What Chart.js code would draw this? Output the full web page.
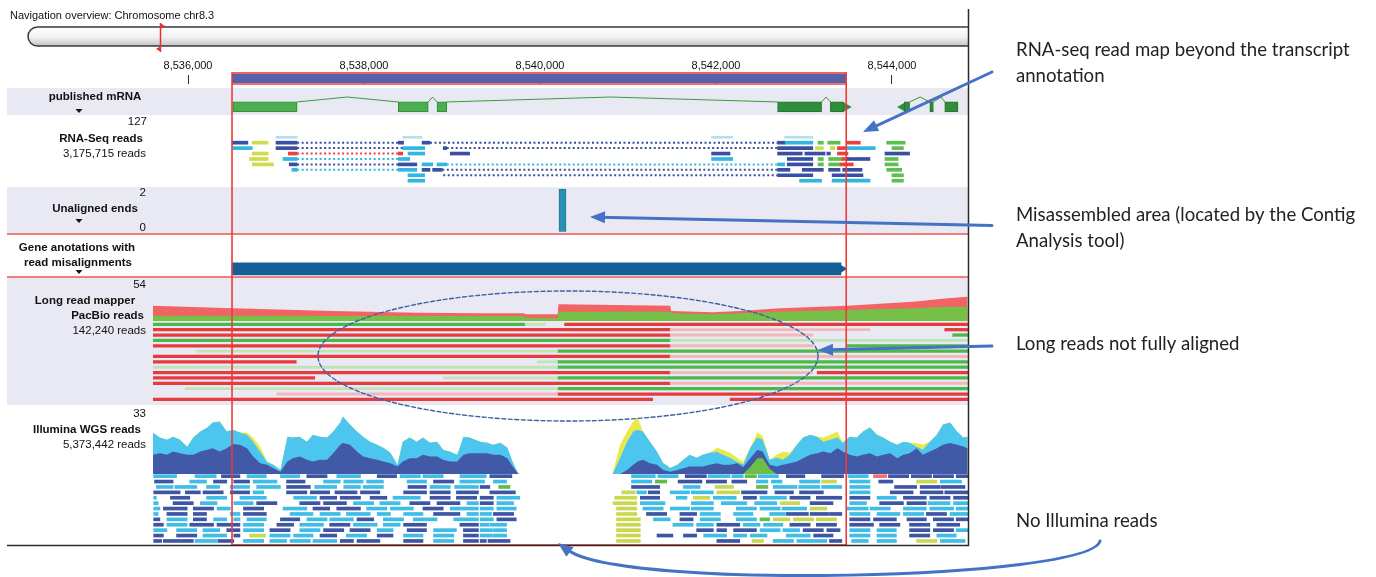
<!DOCTYPE html>
<html>
<head>
<meta charset="utf-8">
<script src="https://cdn.jsdelivr.net/npm/chart.js@4.4.1/dist/chart.umd.min.js"></script>
<style>
  html, body { margin: 0; padding: 0; background: #fff; }
  #wrap { width: 1376px; height: 577px; }
</style>
</head>
<body>
<div id="wrap"><canvas id="browser" width="1376" height="577"></canvas></div>
<script>
// ---- data (positions in kb on chr8.3) ----
const viewRange = [8535.602, 8544.864];
const tickValues = [8536, 8538, 8540, 8542, 8544];
const tickLabels = ['8,536,000', '8,538,000', '8,540,000', '8,542,000', '8,544,000'];
const selection = [8536.50, 8543.48];

// published mRNA: exons [start, end, gene], introns [start, apex, end], strand tips [pos, dir]
const mrnaExons = [[8536.51, 8537.24, 'a'], [8538.39, 8538.73, 'a'], [8538.83, 8538.94, 'a'],
  [8542.70, 8543.20, 'b'], [8543.30, 8543.45, 'b'], [8544.14, 8544.20, 'b'], [8544.43, 8544.47, 'b'], [8544.60, 8544.75, 'b']];
const mrnaIntrons = [[8537.24, 8537.81, 8538.39], [8538.73, 8538.78, 8538.83], [8538.94, 8540.80, 8542.70],
  [8543.20, 8543.25, 8543.30], [8544.20, 8544.32, 8544.43], [8544.47, 8544.56, 8544.60]];
const mrnaTips = [[8543.48, 'right'], [8544.12, 'left']];

// RNA-Seq reads [row, start, end, type] and spliced gaps
const rnaReads = [
  [-1, 8537.00, 8537.24, 'f'], [-1, 8538.44, 8538.66, 'f'], [-1, 8541.95, 8542.19, 'f'], [-1, 8542.78, 8543.10, 'f'],
  [0, 8536.50, 8536.68, 'd'], [0, 8536.73, 8536.91, 'y'], [0, 8537.00, 8537.24, 'd'], [0, 8538.39, 8538.45, 'd'], [0, 8538.66, 8538.75, 'd'],
  [0, 8542.70, 8542.78, 'd'], [0, 8542.78, 8543.10, 'l'], [0, 8543.16, 8543.22, 'g'], [0, 8543.27, 8543.41, 'g'], [0, 8543.49, 8543.64, 'r'], [0, 8543.94, 8544.15, 'g'],
  [1, 8536.51, 8536.73, 'l'], [1, 8537.00, 8537.24, 'd'], [1, 8538.44, 8538.69, 'l'], [1, 8538.90, 8538.94, 'd'], [1, 8542.70, 8543.10, 'd'],
  [1, 8543.13, 8543.22, 'y'], [1, 8543.30, 8543.35, 'y'], [1, 8543.38, 8543.49, 'r'], [1, 8543.49, 8543.81, 'l'], [1, 8544.00, 8544.13, 'g'],
  [2, 8536.73, 8536.91, 'y'], [2, 8537.14, 8537.24, 'r'], [2, 8538.39, 8538.44, 'r'], [2, 8538.50, 8538.69, 'l'], [2, 8538.98, 8539.20, 'd'],
  [2, 8541.95, 8542.16, 'd'], [2, 8542.70, 8542.98, 'd'], [2, 8543.01, 8543.24, 'd'], [2, 8543.26, 8543.30, 'd'], [2, 8543.38, 8543.50, 'r'], [2, 8543.92, 8544.20, 'd'],
  [3, 8536.70, 8536.91, 'y'], [3, 8537.08, 8537.24, 'l'], [3, 8538.39, 8538.52, 'l'], [3, 8541.95, 8542.19, 'l'], [3, 8542.81, 8543.10, 'd'],
  [3, 8543.16, 8543.22, 'g'], [3, 8543.28, 8543.43, 'g'], [3, 8543.43, 8543.49, 'r'], [3, 8543.49, 8543.75, 'd'], [3, 8543.92, 8544.07, 'g'],
  [4, 8536.73, 8536.97, 'y'], [4, 8537.15, 8537.24, 'd'], [4, 8538.39, 8538.60, 'd'], [4, 8538.66, 8538.78, 'l'], [4, 8538.83, 8538.94, 'l'],
  [4, 8542.70, 8542.78, 'l'], [4, 8542.81, 8543.10, 'd'], [4, 8543.16, 8543.22, 'g'], [4, 8543.28, 8543.41, 'g'], [4, 8543.41, 8543.56, 'r'], [4, 8543.92, 8544.07, 'g'],
  [5, 8537.18, 8537.24, 'l'], [5, 8538.39, 8538.60, 'l'], [5, 8538.66, 8538.75, 'd'], [5, 8538.78, 8538.89, 'd'], [5, 8542.70, 8542.84, 'd'],
  [5, 8542.98, 8543.22, 'd'], [5, 8543.28, 8543.41, 'd'], [5, 8543.44, 8543.66, 'd'], [5, 8543.94, 8544.11, 'g'],
  [6, 8538.50, 8538.69, 'l'], [6, 8542.70, 8543.10, 'd'], [6, 8543.32, 8543.67, 'd'], [6, 8544.00, 8544.13, 'g'],
  [7, 8538.50, 8538.69, 'l'], [7, 8542.95, 8543.20, 'l'], [7, 8543.32, 8543.75, 'l'], [7, 8544.00, 8544.13, 'g']
];
const rnaGaps = [
  [0, 8537.24, 8538.39, 'd'], [0, 8538.75, 8542.70, 'd'],
  [1, 8537.24, 8538.44, 'd'], [1, 8538.94, 8542.70, 'd'],
  [2, 8537.24, 8538.39, 'r'],
  [3, 8537.24, 8538.39, 'l'],
  [4, 8537.24, 8538.39, 'd'], [4, 8538.94, 8542.70, 'l'],
  [5, 8537.24, 8538.39, 'l'], [5, 8538.89, 8542.70, 'd'],
  [6, 8538.90, 8542.70, 'd']
];

// unaligned ends
const unalignedPos = [8540.256];
const unalignedCount = [2];

// gene annotation with read misalignments
const geneAnnotation = [8536.50, 8543.42];

// long read (PacBio) coverage and reads
const longPos = [8535.60, 8536.51, 8537.65, 8538.60, 8539.32, 8539.82, 8539.83, 8540.20, 8540.21, 8541.48, 8541.49,
  8541.97, 8542.27, 8542.73, 8543.49, 8544.24, 8544.63, 8544.86];
const longTotal = [21.5, 17.9, 14.1, 11.7, 10.8, 10.8, 9.4, 9.4, 23.5, 21.5, 14.1, 12.3, 14.1, 17.9, 21.5, 27.2, 32.0, 34.2];
const longReverse = [7.5, 7.3, 7.2, 7.0, 7.0, 7.0, 4.6, 3.8, 13.1, 13.1, 10.8, 9.4, 10.8, 13.1, 15.5, 17.9, 20.1, 20.1];
const longReads = [
  [0, 8535.60, 8539.83, 'G'], [0, 8539.83, 8540.06, 'g'], [0, 8540.28, 8544.86, 'R'],
  [1, 8535.60, 8541.48, 'R'], [1, 8541.48, 8543.75, 'r'], [1, 8544.60, 8544.86, 'R'],
  [2, 8535.60, 8541.48, 'R'], [2, 8541.48, 8543.10, 'r'], [2, 8544.69, 8544.86, 'G'],
  [3, 8535.60, 8541.48, 'G'], [3, 8541.48, 8544.86, 'g'],
  [4, 8535.60, 8541.48, 'R'], [4, 8541.48, 8543.10, 'r'], [4, 8543.49, 8544.86, 'G'],
  [5, 8536.10, 8540.20, 'g'], [5, 8540.20, 8544.86, 'G'],
  [6, 8535.60, 8541.48, 'R'], [6, 8541.48, 8544.86, 'r'],
  [7, 8535.60, 8537.23, 'R'], [7, 8539.97, 8540.20, 'g'], [7, 8540.20, 8544.86, 'G'],
  [8, 8535.60, 8540.20, 'g'], [8, 8540.20, 8544.86, 'G'],
  [9, 8535.60, 8541.48, 'R'], [9, 8541.48, 8543.10, 'r'], [9, 8543.15, 8544.86, 'R'],
  [10, 8535.60, 8537.44, 'R'], [10, 8538.90, 8540.20, 'g'], [10, 8540.20, 8544.86, 'G'],
  [11, 8535.60, 8541.48, 'R'], [11, 8541.48, 8544.86, 'r'],
  [12, 8535.97, 8540.20, 'g'], [12, 8540.20, 8544.86, 'G'],
  [13, 8537.01, 8540.20, 'r'], [13, 8540.20, 8544.86, 'R'],
  [14, 8535.60, 8541.28, 'R'], [14, 8542.16, 8544.86, 'R']
];

// Illumina WGS coverage (stacked layer tops) and reads
const illPos = [8535.60, 8535.68, 8535.76, 8535.83, 8535.91, 8535.99, 8536.06, 8536.14, 8536.22, 8536.28,
  8536.36, 8536.44, 8536.51, 8536.59, 8536.67, 8536.74, 8536.82, 8536.90, 8536.97, 8537.05,
  8537.13, 8537.19, 8537.27, 8537.35, 8537.42, 8537.50, 8537.58, 8537.65, 8537.73, 8537.76,
  8537.84, 8537.92, 8537.99, 8538.07, 8538.15, 8538.22, 8538.30, 8538.38, 8538.44, 8538.52,
  8538.60, 8538.67, 8538.75, 8538.83, 8538.90, 8538.98, 8539.06, 8539.13, 8539.20, 8539.32,
  8539.40, 8539.47, 8539.55, 8539.63, 8539.69, 8539.75, 8539.76, 8540.82, 8540.83, 8540.91,
  8540.99, 8541.06, 8541.11, 8541.17, 8541.25, 8541.33, 8541.40, 8541.48, 8541.56, 8541.63,
  8541.70, 8541.78, 8541.85, 8541.93, 8542.01, 8542.08, 8542.16, 8542.24, 8542.31, 8542.39,
  8542.47, 8542.53, 8542.61, 8542.69, 8542.76, 8542.84, 8542.92, 8542.99, 8543.07, 8543.15,
  8543.22, 8543.30, 8543.38, 8543.44, 8543.52, 8543.60, 8543.67, 8543.75, 8543.83, 8543.90,
  8543.98, 8544.06, 8544.13, 8544.20, 8544.28, 8544.35, 8544.43, 8544.51, 8544.58, 8544.66,
  8544.74, 8544.81, 8544.86];
const illDark = [11.1, 12.1, 11.1, 13.0, 12.1, 11.1, 11.1, 13.0, 14.0, 15.0,
  13.0, 15.0, 17.4, 17.0, 15.0, 10.1, 6.2, 5.3, 3.3, 1.3,
  7.2, 9.2, 10.1, 8.2, 7.2, 8.2, 8.2, 12.1, 17.0, 17.9,
  17.0, 13.0, 10.1, 9.2, 8.2, 7.2, 6.2, 4.3, 7.2, 9.2,
  9.2, 11.1, 10.1, 10.1, 8.2, 7.2, 7.2, 11.1, 12.1, 12.1,
  12.1, 11.1, 11.1, 9.2, 4.3, 0.3, 0, 0, 0, 0,
  2.3, 5.3, 7.2, 8.2, 6.2, 5.3, 2.3, 1.3, 2.3, 3.3,
  4.3, 4.3, 4.3, 5.3, 6.2, 5.3, 5.3, 6.2, 4.0, 9.2,
  14.0, 13.0, 5.3, 4.3, 5.3, 6.2, 7.2, 9.2, 11.1, 12.1,
  13.0, 12.1, 15.0, 13.0, 11.1, 10.1, 11.1, 12.1, 10.1, 11.1,
  12.1, 9.2, 11.1, 12.1, 15.0, 11.1, 13.0, 15.0, 17.0, 17.9,
  17.0, 16.0, 15.0];
const illLight = [24.0, 21.1, 19.9, 21.6, 19.9, 15.8, 21.1, 24.6, 26.9, 29.8,
  30.4, 24.6, 25.7, 24.0, 22.8, 18.7, 12.9, 7.0, 5.3, 2.3,
  21.6, 21.1, 21.6, 18.7, 22.8, 21.6, 21.1, 24.6, 29.8, 33.3,
  28.7, 24.6, 21.6, 18.7, 17.0, 15.2, 12.3, 5.3, 18.7, 21.1,
  18.7, 21.1, 18.1, 18.7, 14.0, 12.9, 11.1, 21.6, 21.1, 18.7,
  18.1, 17.0, 18.1, 15.2, 7.0, 0.6, 0, 0, 0.5, 9.4,
  18.7, 24.6, 25.7, 24.6, 18.7, 12.9, 6.4, 3.5, 5.3, 8.2,
  11.1, 9.4, 11.1, 12.3, 12.9, 11.1, 9.4, 7.0, 5.5, 15.2,
  21.1, 19.9, 8.2, 9.4, 8.2, 11.1, 17.0, 21.1, 22.8, 21.6,
  18.7, 19.9, 21.1, 18.1, 21.6, 21.1, 24.6, 26.9, 22.8, 21.1,
  18.7, 17.0, 18.7, 18.1, 15.8, 14.0, 18.7, 22.8, 28.7, 29.8,
  24.6, 21.1, 21.6];
const illYellow = [24.0, 21.1, 19.9, 21.6, 19.9, 15.8, 21.1, 24.6, 26.9, 29.8,
  30.4, 24.6, 25.7, 24.0, 24.0, 21.0, 15.8, 7.0, 5.3, 2.3,
  21.6, 21.1, 21.6, 18.7, 22.8, 21.6, 21.1, 24.6, 29.8, 33.3,
  28.7, 24.6, 21.6, 18.7, 17.0, 15.2, 12.3, 5.3, 18.7, 21.1,
  18.7, 21.1, 18.1, 18.7, 14.0, 12.9, 11.1, 21.6, 21.1, 18.7,
  18.1, 17.0, 18.1, 15.2, 7.0, 0.6, 0, 0, 1.2, 17.0,
  24.6, 30.4, 32.7, 24.6, 18.7, 12.9, 6.4, 3.5, 5.3, 8.2,
  11.1, 9.4, 11.1, 12.3, 15.2, 14.0, 12.3, 9.4, 7.0, 15.2,
  24.0, 22.0, 8.2, 11.1, 12.9, 12.3, 17.0, 21.1, 22.8, 21.6,
  21.1, 22.8, 24.6, 18.1, 21.6, 21.1, 24.6, 26.9, 22.8, 21.1,
  18.7, 17.0, 18.7, 18.1, 18.0, 17.0, 18.7, 22.8, 28.7, 29.8,
  24.6, 21.1, 21.6];
const illGreenPos = [8542.31, 8542.39, 8542.47, 8542.53, 8542.61, 8542.69];
const illGreen = [0, 4.0, 9.2, 9.2, 3.0, 0];

const illReads = [
  [0, 8535.61, 8535.87, 'l'], [0, 8536.08, 8536.32, 'l'], [0, 8536.38, 8536.59, 'd'], [0, 8536.67, 8536.89, 'l'], [0, 8537.05, 8537.27, 'l'], [0, 8537.35, 8537.58, 'd'],
  [0, 8537.69, 8537.96, 'l'], [0, 8538.15, 8538.37, 'd'], [0, 8538.41, 8538.64, 'l'], [0, 8538.67, 8538.90, 'l'], [0, 8539.09, 8539.39, 'l'], [0, 8539.43, 8539.68, 'd'],
  [0, 8541.04, 8541.31, 'l'], [0, 8541.34, 8541.57, 'l'], [0, 8541.65, 8541.89, 'd'], [0, 8541.91, 8542.16, 'l'], [0, 8542.18, 8542.31, 'l'], [0, 8542.33, 8542.46, 'g'],
  [0, 8542.48, 8542.71, 'l'], [0, 8542.80, 8543.01, 'd'], [0, 8543.20, 8543.45, 'd'], [0, 8543.50, 8543.73, 'l'], [0, 8543.79, 8543.94, 'r'], [0, 8543.96, 8544.19, 'd'],
  [0, 8544.22, 8544.45, 'd'], [0, 8544.47, 8544.70, 'd'], [0, 8544.73, 8544.87, 'd'],
  [1, 8535.62, 8535.83, 'd'], [1, 8536.02, 8536.21, 'l'], [1, 8536.29, 8536.44, 'd'], [1, 8536.52, 8536.70, 'd'], [1, 8536.74, 8537.01, 'l'], [1, 8537.12, 8537.33, 'd'],
  [1, 8537.54, 8537.73, 'l'], [1, 8537.77, 8537.99, 'l'], [1, 8538.03, 8538.22, 'l'], [1, 8538.49, 8538.71, 'l'], [1, 8538.79, 8539.02, 'd'], [1, 8539.09, 8539.37, 'l'],
  [1, 8539.47, 8539.62, 'l'], [1, 8541.04, 8541.27, 'l'], [1, 8541.31, 8541.44, 'g'], [1, 8541.57, 8541.84, 'd'], [1, 8541.89, 8542.12, 'd'], [1, 8542.18, 8542.35, 'd'],
  [1, 8542.46, 8542.59, 'l'], [1, 8542.63, 8542.75, 'l'], [1, 8542.95, 8543.18, 'l'], [1, 8543.20, 8543.37, 'y'], [1, 8543.52, 8543.75, 'l'], [1, 8543.85, 8544.01, 'd'],
  [1, 8544.28, 8544.51, 'y'], [1, 8544.55, 8544.79, 'l'],
  [2, 8535.64, 8535.83, 'l'], [2, 8535.85, 8536.10, 'l'], [2, 8536.21, 8536.36, 'l'], [2, 8536.48, 8536.70, 'l'], [2, 8536.78, 8537.05, 'l'], [2, 8537.12, 8537.39, 'd'],
  [2, 8537.44, 8537.69, 'l'], [2, 8537.77, 8537.96, 'l'], [2, 8537.99, 8538.22, 'l'], [2, 8538.50, 8538.71, 'd'], [2, 8538.75, 8538.98, 'l'], [2, 8539.03, 8539.30, 'l'],
  [2, 8539.32, 8539.43, 'd'], [2, 8539.53, 8539.66, 'g'], [2, 8541.04, 8541.36, 'd'], [2, 8541.63, 8541.82, 'l'], [2, 8541.99, 8542.20, 'y'], [2, 8542.46, 8542.59, 'g'],
  [2, 8542.65, 8542.92, 'l'], [2, 8542.94, 8543.18, 'l'], [2, 8543.20, 8543.43, 'l'], [2, 8543.52, 8543.75, 'l'], [2, 8544.03, 8544.28, 'd'], [2, 8544.32, 8544.55, 'd'],
  [2, 8544.56, 8544.83, 'd'],
  [3, 8535.61, 8535.91, 'd'], [3, 8535.97, 8536.14, 'd'], [3, 8536.17, 8536.40, 'd'], [3, 8536.48, 8536.70, 'd'], [3, 8536.74, 8536.86, 'l'], [3, 8537.12, 8537.35, 'd'],
  [3, 8537.39, 8537.61, 'd'], [3, 8537.67, 8537.92, 'd'], [3, 8537.96, 8538.18, 'd'], [3, 8538.45, 8538.71, 'd'], [3, 8538.75, 8538.98, 'd'], [3, 8539.05, 8539.30, 'd'],
  [3, 8539.43, 8539.72, 'd'], [3, 8540.93, 8541.08, 'y'], [3, 8541.10, 8541.21, 'l'], [3, 8541.23, 8541.36, 'd'], [3, 8541.48, 8541.70, 'l'], [3, 8541.72, 8541.97, 'l'],
  [3, 8542.01, 8542.27, 'y'], [3, 8542.29, 8542.58, 'd'], [3, 8542.67, 8542.88, 'd'], [3, 8542.95, 8543.22, 'd'], [3, 8543.52, 8543.75, 'l'], [3, 8543.98, 8544.24, 'd'],
  [3, 8544.32, 8544.58, 'd'], [3, 8544.60, 8544.87, 'd'],
  [4, 8535.61, 8535.64, 'l'], [4, 8535.80, 8536.02, 'd'], [4, 8536.21, 8536.44, 'l'], [4, 8536.59, 8536.89, 'l'], [4, 8537.20, 8537.46, 'l'], [4, 8537.50, 8537.69, 'd'],
  [4, 8537.73, 8537.96, 'd'], [4, 8538.07, 8538.26, 'd'], [4, 8538.33, 8538.64, 'l'], [4, 8538.75, 8538.98, 'd'], [4, 8539.05, 8539.28, 'd'], [4, 8539.32, 8539.47, 'd'],
  [4, 8539.51, 8539.77, 'l'], [4, 8540.85, 8541.10, 'y'], [4, 8541.14, 8541.36, 'd'], [4, 8541.55, 8541.67, 'l'], [4, 8541.74, 8541.93, 'y'], [4, 8541.97, 8542.23, 'l'],
  [4, 8542.31, 8542.46, 'd'], [4, 8542.50, 8542.80, 'l'], [4, 8542.84, 8543.07, 'd'], [4, 8543.14, 8543.43, 'd'], [4, 8543.52, 8543.75, 'd'], [4, 8543.83, 8544.05, 'l'],
  [4, 8544.13, 8544.39, 'd'], [4, 8544.43, 8544.66, 'd'], [4, 8544.70, 8544.87, 'd'],
  [5, 8535.61, 8535.66, 'l'], [5, 8535.83, 8536.06, 'd'], [5, 8536.14, 8536.33, 'l'], [5, 8536.52, 8536.74, 'l'], [5, 8536.78, 8537.01, 'd'], [5, 8537.27, 8537.50, 'd'],
  [5, 8537.54, 8537.80, 'd'], [5, 8537.88, 8538.11, 'l'], [5, 8538.18, 8538.41, 'l'], [5, 8538.52, 8538.75, 'd'], [5, 8538.83, 8539.09, 'd'], [5, 8539.17, 8539.30, 'l'],
  [5, 8539.32, 8539.47, 'd'], [5, 8539.51, 8539.70, 'l'], [5, 8540.83, 8541.10, 'y'], [5, 8541.14, 8541.42, 'l'], [5, 8541.72, 8541.97, 'l'], [5, 8542.06, 8542.35, 'l'],
  [5, 8542.44, 8542.69, 'l'], [5, 8542.73, 8542.95, 'y'], [5, 8543.07, 8543.33, 'd'], [5, 8543.52, 8543.71, 'l'], [5, 8543.86, 8544.13, 'd'], [5, 8544.17, 8544.39, 'd'],
  [5, 8544.41, 8544.66, 'l'], [5, 8544.70, 8544.87, 'l'],
  [6, 8535.61, 8535.68, 'l'], [6, 8535.72, 8535.99, 'd'], [6, 8536.06, 8536.29, 'd'], [6, 8536.33, 8536.48, 'l'], [6, 8536.63, 8536.86, 'd'], [6, 8537.08, 8537.35, 'l'],
  [6, 8537.42, 8537.61, 'd'], [6, 8537.69, 8537.96, 'd'], [6, 8538.03, 8538.26, 'l'], [6, 8538.30, 8538.56, 'l'], [6, 8538.67, 8538.90, 'd'], [6, 8538.98, 8539.30, 'l'],
  [6, 8539.32, 8539.47, 'l'], [6, 8539.51, 8539.73, 'l'], [6, 8540.87, 8541.10, 'y'], [6, 8541.17, 8541.40, 'l'], [6, 8541.48, 8541.70, 'l'], [6, 8541.72, 8541.97, 'l'],
  [6, 8542.23, 8542.46, 'l'], [6, 8542.50, 8542.73, 'l'], [6, 8542.75, 8543.03, 'l'], [6, 8543.07, 8543.26, 'y'], [6, 8543.48, 8543.73, 'l'], [6, 8543.75, 8543.98, 'l'],
  [6, 8544.13, 8544.39, 'l'], [6, 8544.43, 8544.70, 'l'], [6, 8544.73, 8544.87, 'l'],
  [7, 8535.61, 8535.66, 'l'], [7, 8535.76, 8535.99, 'd'], [7, 8536.06, 8536.21, 'd'], [7, 8536.48, 8536.59, 'l'], [7, 8536.63, 8536.89, 'd'], [7, 8537.16, 8537.42, 'l'],
  [7, 8537.50, 8537.73, 'l'], [7, 8537.80, 8538.07, 'l'], [7, 8538.15, 8538.30, 'l'], [7, 8538.45, 8538.67, 'l'], [7, 8538.79, 8539.09, 'd'], [7, 8539.17, 8539.30, 'l'],
  [7, 8539.32, 8539.45, 'l'], [7, 8539.47, 8539.70, 'd'], [7, 8540.87, 8541.10, 'y'], [7, 8541.21, 8541.44, 'd'], [7, 8541.59, 8541.78, 'd'], [7, 8541.82, 8542.05, 'l'],
  [7, 8542.20, 8542.42, 'l'], [7, 8542.61, 8542.79, 'l'], [7, 8542.80, 8543.05, 'd'], [7, 8543.07, 8543.28, 'd'], [7, 8543.29, 8543.43, 'd'], [7, 8543.52, 8543.75, 'l'],
  [7, 8543.83, 8544.09, 'l'], [7, 8544.13, 8544.36, 'l'], [7, 8544.39, 8544.62, 'd'], [7, 8544.66, 8544.87, 'l'],
  [8, 8535.61, 8535.68, 'd'], [8, 8535.76, 8535.99, 'l'], [8, 8536.06, 8536.21, 'd'], [8, 8536.29, 8536.44, 'l'], [8, 8536.52, 8536.59, 'l'], [8, 8536.67, 8536.89, 'l'],
  [8, 8537.05, 8537.27, 'd'], [8, 8537.35, 8537.58, 'l'], [8, 8537.61, 8537.88, 'l'], [8, 8537.92, 8538.11, 'd'], [8, 8538.22, 8538.45, 'l'], [8, 8538.56, 8538.83, 'l'],
  [8, 8539.02, 8539.30, 'l'], [8, 8539.32, 8539.47, 'l'], [8, 8539.51, 8539.73, 'd'], [8, 8540.87, 8541.14, 'y'], [8, 8541.29, 8541.48, 'l'], [8, 8541.59, 8541.74, 'd'],
  [8, 8541.82, 8542.05, 'l'], [8, 8542.23, 8542.46, 'l'], [8, 8542.50, 8542.61, 'g'], [8, 8542.65, 8542.84, 'y'], [8, 8542.88, 8543.11, 'y'], [8, 8543.14, 8543.37, 'y'],
  [8, 8543.52, 8543.75, 'd'], [8, 8543.79, 8544.05, 'd'], [8, 8544.17, 8544.39, 'd'], [8, 8544.47, 8544.70, 'd'], [8, 8544.73, 8544.87, 'd'],
  [9, 8535.61, 8535.72, 'd'], [9, 8535.76, 8535.99, 'l'], [9, 8536.02, 8536.29, 'd'], [9, 8536.33, 8536.59, 'd'], [9, 8536.63, 8536.86, 'l'], [9, 8537.01, 8537.20, 'd'],
  [9, 8537.27, 8537.54, 'l'], [9, 8537.61, 8537.84, 'd'], [9, 8537.88, 8538.15, 'l'], [9, 8538.22, 8538.41, 'l'], [9, 8538.45, 8538.71, 'd'], [9, 8539.09, 8539.30, 'd'],
  [9, 8539.32, 8539.42, 'l'], [9, 8539.43, 8539.62, 'l'], [9, 8540.87, 8541.14, 'y'], [9, 8541.51, 8541.74, 'l'], [9, 8541.78, 8541.97, 'l'], [9, 8542.01, 8542.27, 'd'],
  [9, 8542.31, 8542.50, 'l'], [9, 8542.54, 8542.76, 'l'], [9, 8542.84, 8543.07, 'd'], [9, 8543.14, 8543.37, 'd'], [9, 8543.52, 8543.79, 'd'], [9, 8543.86, 8544.09, 'd'],
  [9, 8544.20, 8544.43, 'd'], [9, 8544.51, 8544.77, 'd'],
  [10, 8535.61, 8535.76, 'l'], [10, 8535.87, 8536.10, 'l'], [10, 8536.17, 8536.36, 'l'], [10, 8536.44, 8536.59, 'd'], [10, 8536.63, 8536.86, 'l'], [10, 8536.93, 8537.16, 'd'],
  [10, 8537.27, 8537.50, 'l'], [10, 8537.54, 8537.77, 'd'], [10, 8537.84, 8538.07, 'd'], [10, 8538.15, 8538.33, 'l'], [10, 8538.49, 8538.71, 'd'], [10, 8538.79, 8539.05, 'l'],
  [10, 8539.13, 8539.30, 'd'], [10, 8539.32, 8539.46, 'l'], [10, 8539.47, 8539.62, 'l'], [10, 8540.87, 8541.14, 'y'], [10, 8541.78, 8541.97, 'd'], [10, 8542.01, 8542.12, 'd'],
  [10, 8542.20, 8542.46, 'd'], [10, 8542.50, 8542.73, 'l'], [10, 8542.76, 8542.95, 'l'], [10, 8542.99, 8543.22, 'd'], [10, 8543.26, 8543.41, 'd'], [10, 8543.52, 8543.75, 'l'],
  [10, 8543.83, 8544.05, 'l'], [10, 8544.20, 8544.43, 'd'], [10, 8544.47, 8544.70, 'd'], [10, 8544.73, 8544.87, 'l'],
  [11, 8535.61, 8535.72, 'd'], [11, 8535.87, 8536.10, 'd'], [11, 8536.17, 8536.44, 'l'], [11, 8536.52, 8536.59, 'd'], [11, 8536.70, 8536.88, 'y'], [11, 8536.93, 8537.16, 'l'],
  [11, 8537.20, 8537.42, 'l'], [11, 8537.50, 8537.69, 'd'], [11, 8537.80, 8538.03, 'l'], [11, 8538.15, 8538.33, 'd'], [11, 8538.45, 8538.67, 'l'], [11, 8538.79, 8539.02, 'l'],
  [11, 8539.13, 8539.30, 'd'], [11, 8539.32, 8539.46, 'l'], [11, 8539.47, 8539.62, 'l'], [11, 8540.87, 8541.14, 'y'], [11, 8541.33, 8541.51, 'd'], [11, 8541.63, 8541.78, 'd'],
  [11, 8541.86, 8542.12, 'l'], [11, 8542.20, 8542.35, 'l'], [11, 8542.39, 8542.58, 'l'], [11, 8542.80, 8543.07, 'l'], [11, 8543.11, 8543.33, 'd'], [11, 8543.52, 8543.75, 'l'],
  [11, 8543.83, 8544.05, 'l'], [11, 8544.20, 8544.43, 'd'], [11, 8544.51, 8544.73, 'l'],
  [12, 8535.61, 8535.70, 'd'], [12, 8535.72, 8536.06, 'd'], [12, 8536.08, 8536.33, 'l'], [12, 8536.34, 8536.52, 'd'], [12, 8536.63, 8536.86, 'l'], [12, 8536.93, 8537.12, 'l'],
  [12, 8537.16, 8537.39, 'l'], [12, 8537.42, 8537.69, 'l'], [12, 8537.73, 8537.88, 'd'], [12, 8537.92, 8538.18, 'd'], [12, 8538.45, 8538.67, 'd'], [12, 8538.79, 8539.02, 'l'],
  [12, 8539.13, 8539.30, 'd'], [12, 8539.32, 8539.39, 'd'], [12, 8539.41, 8539.66, 'd'], [12, 8540.87, 8541.14, 'y'], [12, 8542.01, 8542.27, 'd'], [12, 8542.41, 8542.54, 'y'],
  [12, 8542.65, 8542.88, 'l'], [12, 8542.92, 8543.26, 'l'], [12, 8543.29, 8543.43, 'd'], [12, 8543.54, 8543.73, 'l'], [12, 8543.83, 8544.05, 'l'], [12, 8544.28, 8544.51, 'y'],
  [12, 8544.55, 8544.83, 'l']
];

// ---- styles / layout ----
const FONT = '"Liberation Sans", Arial, sans-serif';
const lavender = '#e9e9f3';
const selRed = '#f03a3a';
const calloutBlue = '#4472c4';
const rnaColors = { d: '#3b4fa2', l: '#33b5e2', y: '#cfdb4a', r: '#e8413f', g: '#5dbf4f' };
const rnaFaint = { f: '#b4dff2' };
const longSolid = { R: '#e53a3e', G: '#4cb848' };
const longFaded = { r: '#f3b7ba', g: '#bfe4b8' };
const illColors = { d: '#3d55a3', l: '#3fbde6', y: '#cad850', g: '#62bd47', r: '#f26d73' };
const EXON_LEVEL = 0.26, INTRON_BASE = 0.42, INTRON_APEX = 0.58, GENE_LEVEL = 0.19;

const trackLabels = [
  ['yMrna', 13, 95, 'published mRNA', true, 'center'],
  ['yRna', 7, 147, '127', false, 'right'],
  ['yRna', 24, 101, 'RNA-Seq reads', true, 'center'],
  ['yRna', 39, 146, '3,175,715 reads', false, 'right'],
  ['yUnal', 6, 146, '2', false, 'right'],
  ['yUnal', 22, 95, 'Unaligned ends', true, 'center'],
  ['yUnal', 41, 146, '0', false, 'right'],
  ['yGene', 14, 77, 'Gene anotations with', true, 'center'],
  ['yGene', 29, 78, 'read misalignments', true, 'center'],
  ['yLongCov', 8, 146, '54', false, 'right'],
  ['yLongCov', 23.5, 85, 'Long read mapper', true, 'center'],
  ['yLongCov', 38.7, 144, 'PacBio reads', true, 'right'],
  ['yLongCov', 54, 146, '142,240 reads', false, 'right'],
  ['yIllCov', 9, 146, '33', false, 'right'],
  ['yIllCov', 24.5, 87, 'Illumina WGS reads', true, 'center'],
  ['yIllCov', 40, 146, '5,373,442 reads', false, 'right']
];
const trackMenus = [['yMrna', 27, 79], ['yUnal', 34, 79], ['yGene', 38, 79]];
const shadedBands = [['yMrna', 'yMrna', 4], ['yUnal', 'yUnal', 0], ['yLongCov', 'yLongReads', 0]];

const calloutTexts = [
  [1016, 50, 'RNA-seq read map beyond the transcript'],
  [1016, 76, 'annotation'],
  [1016, 215, 'Misassembled area (located by the Contig'],
  [1016, 241, 'Analysis tool)'],
  [1016, 344, 'Long reads not fully aligned'],
  [1016, 521, 'No Illumina reads']
];
const calloutArrows = [[992, 72, 863, 132], [992, 225.5, 590, 217], [992, 346, 818, 350]];

// ---- dataset builders ----
function area(pos, vals, yAxisID, color, order) {
  return {
    type: 'line', xAxisID: 'x', yAxisID, order,
    data: pos.map((x, i) => ({ x, y: vals[i] })),
    backgroundColor: color, borderColor: color, borderWidth: 0,
    pointRadius: 0, fill: 'origin', tension: 0
  };
}

function readBars(reads, yAxisID, colors, thickness) {
  return Object.entries(colors).map(([t, color]) => ({
    type: 'bar', indexAxis: 'y', grouped: false, xAxisID: 'x', yAxisID, order: 1,
    data: reads.filter(r => r[3] === t).map(r => ({ y: r[0], x: [r[1], r[2]] })),
    backgroundColor: color, borderWidth: 0, barThickness: thickness
  }));
}

function gapLines(gaps, yAxisID, colors) {
  return Object.entries(colors).map(([t, color]) => ({
    type: 'line', xAxisID: 'x', yAxisID, order: 1,
    data: gaps.filter(g => g[3] === t).flatMap(g => [{ x: g[1], y: g[0] }, { x: g[2], y: g[0] }, { x: g[2], y: null }]),
    borderColor: color, borderWidth: 2, borderDash: [2, 2.5], pointRadius: 0, fill: false, spanGaps: false
  }));
}

const datasets = [];

// published mRNA
datasets.push({
  type: 'line', xAxisID: 'x', yAxisID: 'yMrna', order: 2,
  data: mrnaIntrons.flatMap(i => [{ x: i[0], y: INTRON_BASE }, { x: i[1], y: INTRON_APEX }, { x: i[2], y: INTRON_BASE }, { x: i[2], y: null }]),
  borderColor: '#3d9a3f', borderWidth: 1, pointRadius: 0, fill: false, spanGaps: false
});
[['a', '#4caf4f', '#2f8a35'], ['b', '#2f8d3c', '#23722e']].forEach(([g, fill, edge]) => {
  datasets.push({
    type: 'bar', indexAxis: 'y', grouped: false, xAxisID: 'x', yAxisID: 'yMrna', order: 1,
    data: mrnaExons.filter(e => e[2] === g).map(e => ({ y: EXON_LEVEL, x: [e[0], e[1]] })),
    backgroundColor: fill, borderColor: edge, borderWidth: 1, borderSkipped: false, barThickness: 10
  });
});
datasets.push({
  type: 'line', xAxisID: 'x', yAxisID: 'yMrna', order: 1, showLine: false,
  data: mrnaTips.map(t => ({ x: t[0], y: EXON_LEVEL })),
  pointStyle: 'triangle', pointRadius: 5.5, pointBorderWidth: 0,
  pointRotation: mrnaTips.map(t => (t[1] === 'right' ? 90 : -90)),
  pointBackgroundColor: '#2f8d3c'
});

// RNA-Seq
datasets.push(...gapLines(rnaGaps, 'yRna', rnaColors));
datasets.push(...readBars(rnaReads, 'yRna', rnaFaint, 2));
datasets.push(...readBars(rnaReads, 'yRna', rnaColors, 3));

// unaligned ends
datasets.push({
  type: 'bar', xAxisID: 'x', yAxisID: 'yUnal', grouped: false, order: 1,
  data: unalignedPos.map((x, i) => ({ x, y: unalignedCount[i] })),
  backgroundColor: '#2a90b4', borderColor: '#1f7898', borderWidth: 1, barThickness: 7
});

// gene annotation
datasets.push({
  type: 'bar', indexAxis: 'y', grouped: false, xAxisID: 'x', yAxisID: 'yGene', order: 1,
  data: [{ y: GENE_LEVEL, x: geneAnnotation }],
  backgroundColor: '#145f96', borderWidth: 0, barThickness: 12
});
datasets.push({
  type: 'line', xAxisID: 'x', yAxisID: 'yGene', order: 1, showLine: false,
  data: [{ x: geneAnnotation[1], y: GENE_LEVEL }],
  pointStyle: 'triangle', pointRadius: 6.5, pointRotation: 90, pointBorderWidth: 0, pointBackgroundColor: '#145f96'
});

// long reads
datasets.push(area(longPos, longTotal, 'yLongCov', '#f26464', 11));
datasets.push(area(longPos, longReverse, 'yLongCov', '#76bf48', 10));
datasets.push(...readBars(longReads, 'yLongReads', longFaded, 2.2));
datasets.push(...readBars(longReads, 'yLongReads', longSolid, 2.6));

// Illumina
datasets.push(area(illPos, illYellow, 'yIllCov', '#e9e84c', 15));
datasets.push(area(illPos, illLight, 'yIllCov', '#4cc6ee', 14));
datasets.push(area(illPos, illDark, 'yIllCov', '#4259a8', 13));
datasets.push(area(illGreenPos, illGreen, 'yIllCov', '#6cbf45', 12));
datasets.push(...readBars(illReads, 'yIllReads', illColors, 3));

// ---- scales ----
function track(weight, order, min, max, reverse) {
  return { type: 'linear', display: false, position: 'left', stack: 'tracks', stackWeight: weight, weight: order, min, max, reverse: !!reverse, offset: false };
}

// ---- overlay drawing ----
function arrowHead(ctx, x1, y1, x2, y2, len, half) {
  const a = Math.atan2(y2 - y1, x2 - x1);
  ctx.beginPath();
  ctx.moveTo(x2, y2);
  ctx.lineTo(x2 - len * Math.cos(a) + half * Math.sin(a), y2 - len * Math.sin(a) - half * Math.cos(a));
  ctx.lineTo(x2 - len * Math.cos(a) - half * Math.sin(a), y2 - len * Math.sin(a) + half * Math.cos(a));
  ctx.closePath();
  ctx.fill();
}

function menuMark(ctx, x, y) {
  ctx.beginPath();
  ctx.moveTo(x - 3.5, y - 2);
  ctx.lineTo(x + 3.5, y - 2);
  ctx.lineTo(x, y + 2);
  ctx.closePath();
  ctx.fill();
}

const decor = {
  id: 'decor',
  beforeDatasetsDraw(chart) {
    const { ctx, chartArea, scales } = chart;
    ctx.save();
    ctx.fillStyle = lavender;
    shadedBands.forEach(([a, b, inset]) => {
      const top = scales[a].top + inset;
      ctx.fillRect(7, top, chartArea.right - 7, scales[b].bottom - top);
    });
    ctx.restore();
  },
  afterDatasetsDraw(chart) {
    const { ctx, chartArea, scales } = chart;
    const x = scales.x;
    ctx.save();

    // navigation overview
    ctx.font = '11px ' + FONT;
    ctx.fillStyle = '#111';
    ctx.textBaseline = 'middle';
    ctx.textAlign = 'left';
    ctx.fillText('Navigation overview: Chromosome chr8.3', 10, 16);
    ctx.save();
    ctx.beginPath();
    ctx.rect(0, 0, chartArea.right, 60);
    ctx.clip();
    const grad = ctx.createLinearGradient(0, 27, 0, 46);
    grad.addColorStop(0, '#ffffff');
    grad.addColorStop(0.55, '#f0f0f0');
    grad.addColorStop(1, '#c4c4c4');
    ctx.beginPath();
    ctx.roundRect(28, 27, 980, 19, 9.5);
    ctx.fillStyle = grad;
    ctx.fill();
    ctx.lineWidth = 1.5;
    ctx.strokeStyle = '#3a3a3a';
    ctx.stroke();
    ctx.restore();
    ctx.strokeStyle = '#e83030';
    ctx.fillStyle = '#e83030';
    ctx.lineWidth = 1.5;
    ctx.beginPath();
    ctx.moveTo(160.5, 23);
    ctx.lineTo(160.5, 52);
    ctx.stroke();
    ctx.beginPath();
    ctx.moveTo(160, 23); ctx.lineTo(165, 26); ctx.lineTo(160, 29); ctx.closePath(); ctx.fill();
    ctx.beginPath();
    ctx.moveTo(161, 46); ctx.lineTo(156, 49); ctx.lineTo(161, 52); ctx.closePath(); ctx.fill();

    // track separators
    ctx.strokeStyle = '#f05454';
    ctx.lineWidth = 1.5;
    [scales.yGene.top, scales.yGene.bottom].forEach(y => {
      ctx.beginPath();
      ctx.moveTo(7, y);
      ctx.lineTo(chartArea.right, y);
      ctx.stroke();
    });

    // selected region
    const x0 = x.getPixelForValue(selection[0]);
    const x1 = x.getPixelForValue(selection[1]);
    ctx.fillStyle = '#5461ab';
    ctx.fillRect(x0, chartArea.top - 10, x1 - x0, 9);
    ctx.strokeStyle = selRed;
    ctx.lineWidth = 1.6;
    ctx.strokeRect(x0, chartArea.top - 11, x1 - x0, chartArea.bottom - chartArea.top + 11);
    ctx.beginPath();
    ctx.moveTo(x0, chartArea.top);
    ctx.lineTo(x1, chartArea.top);
    ctx.stroke();

    // frame
    ctx.strokeStyle = '#2a2a2a';
    ctx.lineWidth = 1.5;
    ctx.beginPath();
    ctx.moveTo(chartArea.right + 0.5, 9);
    ctx.lineTo(chartArea.right + 0.5, chartArea.bottom + 0.5);
    ctx.lineTo(7, chartArea.bottom + 0.5);
    ctx.stroke();

    // track labels
    ctx.fillStyle = '#111';
    ctx.textBaseline = 'middle';
    trackLabels.forEach(([id, dy, lx, text, bold, align]) => {
      ctx.font = (bold ? 'bold ' : '') + '11.5px ' + FONT;
      ctx.textAlign = align;
      ctx.fillText(text, lx, scales[id].top + dy);
    });
    trackMenus.forEach(([id, dy, mx]) => menuMark(ctx, mx, scales[id].top + dy));

    // callouts
    ctx.strokeStyle = calloutBlue;
    ctx.fillStyle = calloutBlue;
    ctx.lineWidth = 3;
    ctx.lineCap = 'round';
    calloutArrows.forEach(([ax, ay, bx, by]) => {
      const a = Math.atan2(by - ay, bx - ax);
      ctx.beginPath();
      ctx.moveTo(ax, ay);
      ctx.lineTo(bx - 10 * Math.cos(a), by - 10 * Math.sin(a));
      ctx.stroke();
      arrowHead(ctx, ax, ay, bx, by, 15, 6);
    });
    ctx.beginPath();
    ctx.moveTo(1100, 541);
    ctx.bezierCurveTo(1090, 580, 620, 590, 568, 550);
    ctx.stroke();
    arrowHead(ctx, 620, 590, 558, 543, 15, 6);

    ctx.setLineDash([4, 2.5]);
    ctx.lineWidth = 1.4;
    ctx.strokeStyle = '#3d62a4';
    ctx.beginPath();
    ctx.ellipse(568, 356, 250, 65, 0, 0, Math.PI * 2);
    ctx.stroke();
    ctx.setLineDash([]);

    ctx.font = '18.6px Lato, "Open Sans", sans-serif';
    ctx.fillStyle = '#222';
    ctx.textAlign = 'left';
    calloutTexts.forEach(([tx, ty, t]) => ctx.fillText(t, tx, ty));
    ctx.restore();
  }
};

new Chart(document.getElementById('browser'), {
  type: 'line',
  data: { datasets },
  options: {
    responsive: false,
    animation: false,
    devicePixelRatio: 1,
    events: [],
    layout: { padding: { left: 153, right: 408, top: 54, bottom: 32 } },
    plugins: { legend: { display: false }, tooltip: { enabled: false } },
    scales: {
      x: {
        type: 'linear', position: 'top', min: viewRange[0], max: viewRange[1], offset: false,
        grid: { display: true, drawOnChartArea: false, drawTicks: true, tickLength: 9, color: '#333', offset: false },
        border: { display: false },
        ticks: {
          font: { family: FONT, size: 11 }, color: '#111', padding: 2, maxRotation: 0, autoSkip: false,
          callback: (v, i) => tickLabels[i]
        },
        afterBuildTicks: s => { s.ticks = tickValues.map(v => ({ value: v })); },
        afterFit: s => { s.height = 30; }
      },
      yMrna: track(31, 8, 0, 1),
      yRna: track(72, 7, -5.1, 8.16, true),
      yUnal: track(47, 6, -0.1, 2.1),
      yGene: track(43, 5, 0, 1),
      yLongCov: track(44, 4, 0, 62),
      yLongReads: track(84, 3, -0.62, 15.05, true),
      yIllCov: track(69, 2, 0, 40),
      yIllReads: track(71, 1, -0.4, 12.75, true)
    }
  },
  plugins: [decor]
});
</script>
</body>
</html>
